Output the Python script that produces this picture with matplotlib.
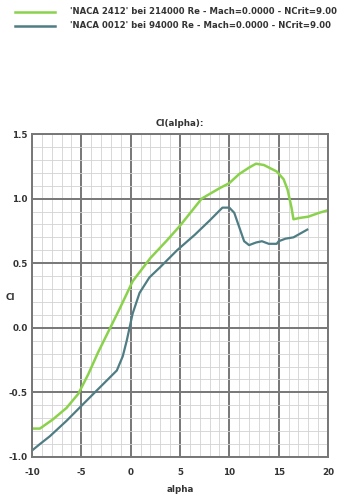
import matplotlib
matplotlib.use("Agg")
import matplotlib.pyplot as plt
from matplotlib.lines import Line2D
import numpy as np

# Data
alpha_2412 = [-10, -9.2, -7.9, -6.5, -5.3, -4.3, -3.3, -2.2, -1.1, 0.2, 0.9, 2.0, 3.6, 5.0,
              7.2, 9.0, 10.0, 11.0, 12.0, 12.7, 13.5, 14.8, 15.5, 15.9, 16.3, 16.5, 17.1, 18.0, 19.1, 20.0]
cl_2412 = [-0.78, -0.78, -0.71, -0.62, -0.51, -0.36, -0.19, -0.02, 0.15, 0.36, 0.43, 0.54, 0.67, 0.79,
           1.0, 1.08, 1.12, 1.19, 1.24, 1.27, 1.26, 1.21, 1.15, 1.07, 0.93, 0.84, 0.85, 0.86, 0.89, 0.91]

alpha_0012 = [-10, -9.2, -8.2, -6.5, -5.2, -3.5, -1.4, -0.8, -0.4, 0.2, 0.9, 1.9, 3.0, 4.7, 6.5,
              8.0, 9.3, 10.0, 10.5, 11.0, 11.5, 12.0, 12.7, 13.3, 14.0, 14.8, 15.0, 15.7, 16.5, 17.2, 17.9]
cl_0012 = [-0.95, -0.90, -0.84, -0.72, -0.62, -0.49, -0.33, -0.22, -0.10, 0.11, 0.27, 0.39, 0.47, 0.60, 0.72,
           0.83, 0.93, 0.93, 0.89, 0.78, 0.67, 0.64, 0.66, 0.67, 0.65, 0.65, 0.67, 0.69, 0.70, 0.73, 0.76]

labels = ["'NACA 2412' bei 214000 Re - Mach=0.0000 - NCrit=9.00",
          "'NACA 0012' bei 94000 Re - Mach=0.0000 - NCrit=9.00"]
colors = ["#8bd24c", "#4f7d84"]

xticks = [-10, -5, 0, 5, 10, 15, 20]
yticks = [-1.0, -0.5, 0.0, 0.5, 1.0, 1.5]

fig = plt.figure(figsize=(3.45, 5.0), dpi=100)
ax = fig.add_axes([32/345, 43/500, 296/345, 323/500])

ax.set_xlim(-10, 20)
ax.set_ylim(-1.0, 1.5)
ax.set_xticks(xticks)
ax.set_yticks(yticks)
ax.set_xticks(np.arange(-10, 21, 1), minor=True)
ax.set_yticks(np.arange(-1.0, 1.51, 0.1), minor=True)
ax.grid(which='major', color='#777777', linewidth=1.4)
ax.grid(which='minor', color='#d2d2d2', linewidth=0.6)
ax.set_axisbelow(True)
for s in ax.spines.values():
    s.set_color('#777777')
    s.set_linewidth(1.4)
ax.tick_params(which='both', length=0)
ax.set_xticklabels([str(t) for t in xticks], fontsize=6.3, fontweight='bold', color='#333333')
ax.set_yticklabels([f"{t:.1f}" for t in yticks], fontsize=6.3, fontweight='bold', color='#333333')
ax.tick_params(axis='x', pad=8)
ax.tick_params(axis='y', pad=3)

ax.plot(alpha_2412, cl_2412, color=colors[0], lw=1.8)
ax.plot(alpha_0012, cl_0012, color=colors[1], lw=1.6)

ax.set_title("Cl(alpha):", fontsize=6.3, fontweight='bold', color='#333333', pad=6)
ax.set_xlabel("alpha", fontsize=6.3, fontweight='bold', color='#333333', labelpad=6)
fig.text(10/345, 1 - 297/500, "Cl", fontsize=6.3, fontweight='bold', color='#333333',
         ha='center', va='center')

# Legend drawn at top
for i, (lab, c) in enumerate(zip(labels, colors)):
    yy = 1 - (12 + 14*i)/500
    fig.add_artist(Line2D([15/345, 55/345], [yy, yy], color=c, lw=1.8, transform=fig.transFigure))
    fig.text(70/345, yy, lab, fontsize=6.1, fontweight='bold', color='#333333', va='center', ha='left')

fig.savefig("out.png", dpi=100)
